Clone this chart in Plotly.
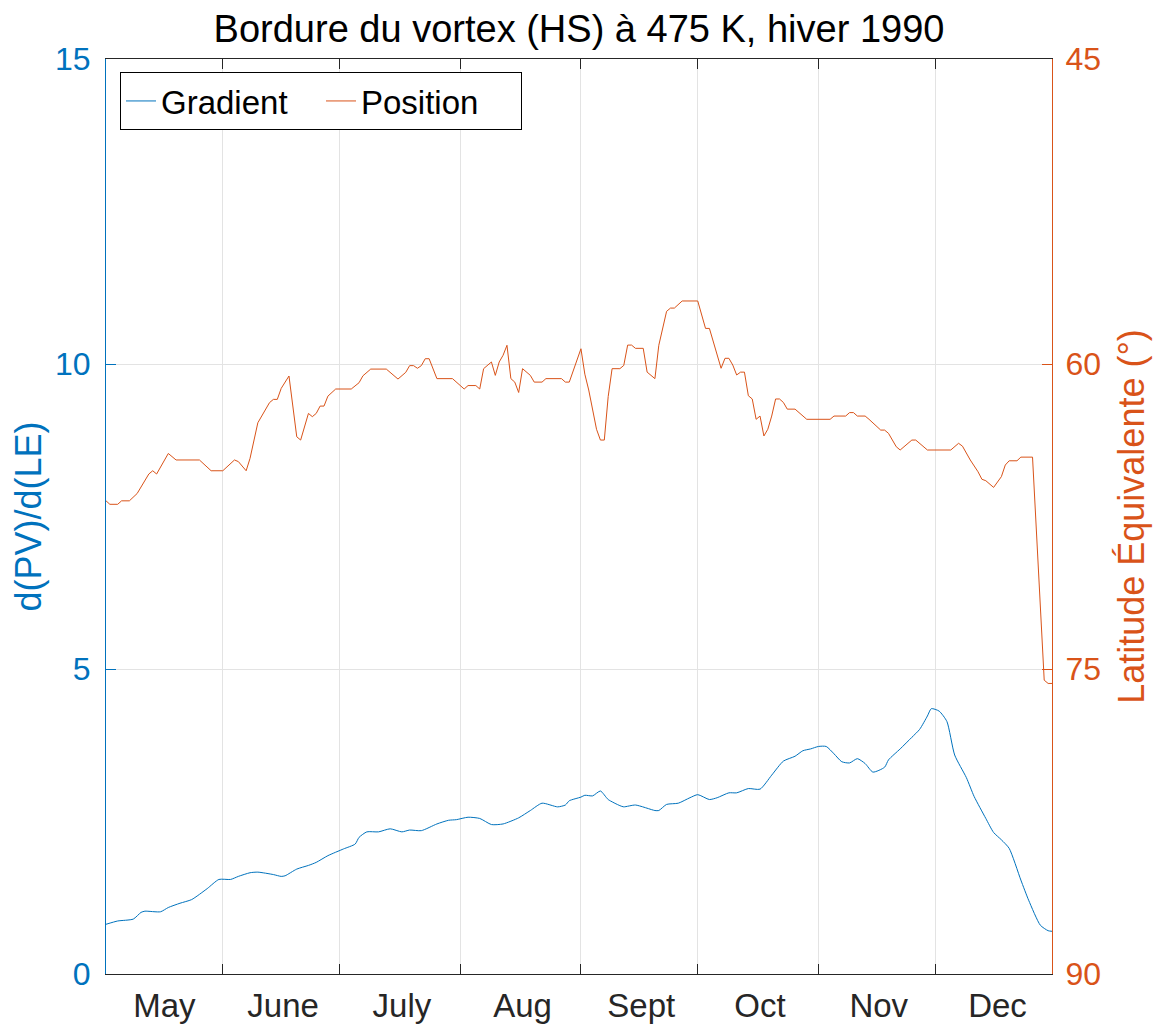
import plotly.graph_objects as go

# ---------------- data ----------------
months = ["May", "June", "July", "Aug", "Sept", "Oct", "Nov", "Dec"]
month_label_days = [137, 167.5, 198, 229, 259.5, 290, 320.5, 351]
month_start_days = [152, 182, 213, 244, 274, 305, 335]

grad_day = [122, 125, 129, 131, 132, 136, 138, 141, 144, 148, 151, 154, 156, 159, 161,
            165, 167, 168, 171, 174, 176, 179, 183, 186, 187, 189, 192, 195, 198, 200,
            203, 207, 210, 212, 215, 218, 221, 224, 228, 231, 234, 238, 240, 241, 244,
            245, 247, 249, 251, 254, 255, 258, 263, 264, 266, 269, 272, 274, 277, 279,
            282, 284, 287, 290, 293, 296, 299, 301, 303, 305, 307, 309, 311, 313, 315,
            317, 319, 322, 323, 326, 329, 331, 333, 334, 336, 338, 340, 343, 345, 348,
            350, 352, 354, 357, 359, 362, 364, 365]
grad_val = [0.815, 0.869, 0.90, 1.01, 1.03, 1.02, 1.09, 1.16, 1.22, 1.40, 1.55, 1.55, 1.60, 1.66, 1.67,
            1.63, 1.60, 1.61, 1.72, 1.78, 1.83, 1.94, 2.05, 2.13, 2.24, 2.33, 2.33, 2.38, 2.33, 2.36,
            2.35, 2.46, 2.52, 2.53, 2.57, 2.55, 2.45, 2.46, 2.56, 2.68, 2.80, 2.74, 2.77, 2.84, 2.90,
            2.93, 2.92, 3.00, 2.86, 2.76, 2.74, 2.77, 2.68, 2.68, 2.78, 2.80, 2.89, 2.94, 2.86, 2.89,
            2.97, 2.97, 3.04, 3.03, 3.26, 3.49, 3.57, 3.66, 3.69, 3.73, 3.73, 3.61, 3.48, 3.46, 3.53,
            3.45, 3.31, 3.39, 3.51, 3.69, 3.88, 4.01, 4.23, 4.35, 4.31, 4.14, 3.59, 3.22, 2.91, 2.55,
            2.32, 2.20, 2.06, 1.54, 1.21, 0.80, 0.71, 0.70]

pos_day = [122, 123, 125, 126, 128, 130, 133, 134, 135, 138, 140, 146, 149, 152, 155,
           156, 158, 159, 161, 164, 165, 166, 167, 169, 171, 172, 174, 175, 176, 177,
           178, 179, 181, 185, 187, 188, 190, 194, 197, 199, 200, 201, 202, 203, 204,
           205, 207, 211, 214, 215, 217, 218, 219, 221, 222, 223, 224, 225, 226, 227,
           228, 229, 231, 232, 234, 235, 239, 240, 241, 242, 244, 245, 246, 248, 249,
           250, 251, 252, 254, 255, 256, 257, 258, 260, 261, 263, 264, 266, 267, 268,
           270, 274, 276, 277, 280, 281, 282, 283, 284, 285, 286, 287, 288, 289, 290,
           291, 292, 293, 294, 295, 296, 297, 299, 302, 308, 309, 312, 313, 314, 315,
           317, 318, 320, 321, 322, 323, 325, 326, 329, 330, 333, 339, 341, 342, 344,
           346, 347, 348, 350, 352, 353, 354, 356, 357, 360, 363, 364, 365]
pos_lat = [66.73, 66.9, 66.9, 66.73, 66.73, 66.37, 65.41, 65.25, 65.41, 64.4, 64.72, 64.72, 65.25, 65.25, 64.72,
           64.8, 65.25, 64.64, 62.89, 61.9, 61.74, 61.74, 61.2, 60.59, 63.58, 63.74, 62.43, 62.59, 62.43, 62.07,
           62.07, 61.58, 61.23, 61.23, 60.92, 60.58, 60.25, 60.25, 60.74, 60.41, 60.08, 60.08, 60.21, 60.08, 59.74,
           59.74, 60.72, 60.72, 61.23, 61.06, 61.06, 61.23, 60.23, 59.9, 60.56, 59.9, 59.57, 59.08, 60.72, 60.89,
           61.4, 60.23, 60.56, 60.89, 60.89, 60.72, 60.72, 60.89, 60.89, 60.33, 59.25, 60.5, 61.28, 63.21, 63.74,
           63.74, 61.6, 60.23, 60.23, 60.07, 59.07, 59.07, 59.23, 59.23, 60.4, 60.72, 59.08, 57.41, 57.25, 57.25,
           56.9, 56.9, 58.25, 58.25, 60.21, 59.72, 59.72, 60.05, 60.54, 60.4, 60.4, 61.56, 61.72, 62.72, 62.56,
           63.54, 63.21, 62.56, 61.72, 61.72, 61.89, 62.22, 62.22, 62.72, 62.72, 62.56, 62.56, 62.39, 62.39, 62.56,
           62.56, 62.72, 63.08, 63.25, 63.25, 63.41, 64.07, 64.23, 63.74, 63.74, 64.23, 64.23, 63.9, 64.04, 64.72,
           65.3, 65.67, 65.74, 66.07, 65.54, 64.97, 64.76, 64.76, 64.58, 64.58, 75.55, 75.71, 75.71]

left_ticks = [0, 5, 10, 15]
right_ticks = [45, 60, 75, 90]

# ---------------- style ----------------
BLUE = "#0072BD"
ORANGE = "#D95319"
DARK = "#262626"
GRID = "#e3e3e3"
FONT = "Liberation Sans, Arial, Helvetica, sans-serif"

# the page body has an 8px margin: shrink the figure so it lands where the reference is
W, H = 1159, 1020

fig = go.Figure()
fig.add_trace(go.Scatter(x=grad_day, y=grad_val, name="Gradient", mode="lines",
                         line=dict(color=BLUE, width=1, shape="spline", smoothing=0.6),
                         yaxis="y"))
fig.add_trace(go.Scatter(x=pos_day, y=pos_lat, name="Position", mode="lines",
                         line=dict(color=ORANGE, width=1), yaxis="y2"))

fig.update_layout(
    width=W, height=H,
    margin=dict(l=98, r=115, t=51, b=54),
    paper_bgcolor="white", plot_bgcolor="white",
    font=dict(family=FONT, size=32, color=DARK),
    title=dict(text="Bordure du vortex (HS) à 475 K, hiver 1990",
               x=0.5, xref="paper", xanchor="center",
               y=1 - 21 / H, yref="container", yanchor="middle",
               font=dict(size=38, color="black", family=FONT)),
    xaxis=dict(range=[122, 365], tickvals=month_label_days, ticktext=months,
               ticks="", showgrid=False, zeroline=False,
               showline=True, linecolor=DARK, linewidth=1, mirror="ticks",
               tickfont=dict(size=33, color=DARK), ticklabelstandoff=2,
               automargin=False,
               minor=dict(tickvals=month_start_days, ticks="inside", ticklen=10,
                          tickcolor=DARK, tickwidth=1,
                          showgrid=True, gridcolor=GRID, gridwidth=1)),
    yaxis=dict(range=[0, 15], tickvals=left_ticks, ticks="inside", ticklen=10,
               tickcolor=BLUE, showgrid=True, gridcolor=GRID, zeroline=False,
               showline=True, linecolor=BLUE, linewidth=1,
               tickfont=dict(color=BLUE, size=32), ticklabelstandoff=8,
               automargin=False,
               title=dict(text="d(PV)/d(LE)", font=dict(color=BLUE, size=36), standoff=12)),
    yaxis2=dict(range=[90, 45], overlaying="y", side="right", tickvals=right_ticks,
                ticks="inside", ticklen=10, tickcolor=ORANGE, showgrid=False,
                zeroline=False, showline=True, linecolor=ORANGE, linewidth=1,
                tickfont=dict(color=ORANGE, size=32), ticklabelstandoff=6,
                automargin=False,
                title=dict(text="Latitude Équivalente (°)", font=dict(color=ORANGE, size=36),
                           standoff=18)),
    legend=dict(orientation="h", x=0.0148, y=0.9858, xanchor="left", yanchor="top",
                bgcolor="white", bordercolor="black", borderwidth=1,
                entrywidth=155,
                font=dict(size=33, color="black")),
    showlegend=True,
)

fig.write_html("out.html")
